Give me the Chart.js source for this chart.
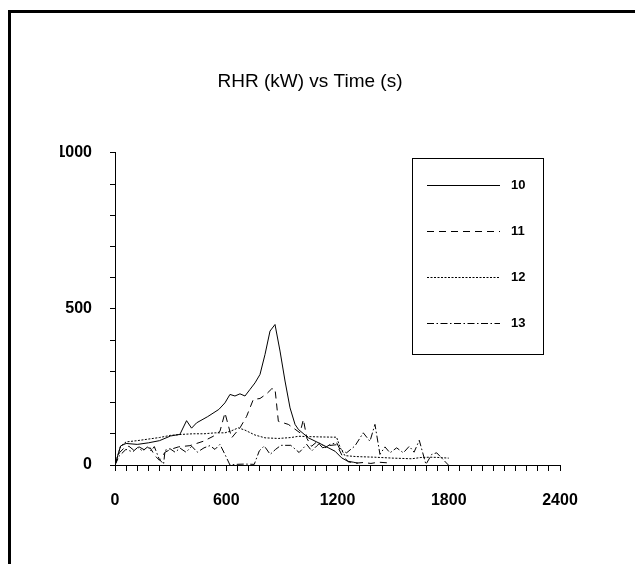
<!DOCTYPE html>
<html>
<head>
<meta charset="utf-8">
<script src="https://cdn.jsdelivr.net/npm/chart.js@4.4.0/dist/chart.umd.min.js"></script>
<style>
html,body{margin:0;padding:0;background:#fff;}
#wrap{width:635px;height:564px;position:relative;}
</style>
</head>
<body>
<div id="wrap"><canvas id="c" width="635" height="564"></canvas></div>
<script>
const titleText = 'RHR (kW) vs Time (s)';
const seriesLabels = ['10', '11', '12', '13'];
const xTickLabels = [0, 600, 1200, 1800, 2400];
const yTickLabels = [0, 500, 1000];

const t10 = [0, 30, 60, 120, 180, 240, 300, 350, 386, 413, 440, 500, 560, 593, 620, 647, 674, 701, 728, 755, 782, 809, 836, 863, 890, 917, 944, 971, 989, 1043, 1115, 1187, 1222, 1255, 1285, 1310];
const v10 = [0, 61, 69, 66, 71, 78, 93, 98, 142, 118, 135, 155, 178, 199, 226, 221, 228, 221, 242, 263, 290, 354, 429, 450, 365, 269, 183, 130, 114, 87, 66, 44, 23, 12, 9, 6];

const t11 = [0, 25, 50, 75, 100, 130, 160, 190, 215, 240, 270, 300, 342, 404, 476, 530, 566, 593, 629, 674, 710, 746, 782, 818, 845, 863, 881, 935, 998, 1016, 1035, 1060, 1090, 1120, 1150, 1196, 1225, 1260, 1300, 1340, 1380, 1420, 1470];
const v11 = [0, 40, 55, 60, 48, 58, 48, 55, 30, 15, 41, 50, 58, 62, 76, 92, 108, 167, 87, 119, 156, 210, 213, 228, 244, 244, 140, 130, 103, 146, 85, 60, 75, 55, 62, 65, 30, 10, 6, 8, 5, 9, 7];

const t12 = [0, 30, 60, 120, 180, 240, 300, 360, 420, 480, 540, 593, 630, 665, 700, 755, 809, 881, 950, 989, 1100, 1195, 1215, 1240, 1300, 1400, 1500, 1600, 1650, 1700, 1750, 1800];
const v12 = [0, 60, 74, 78, 83, 88, 95, 98, 100, 100, 103, 103, 110, 119, 112, 96, 87, 85, 88, 92, 90, 89, 55, 30, 27, 25, 22, 20, 24, 25, 24, 22];

const t13 = [0, 23, 59, 95, 122, 149, 176, 194, 212, 239, 262, 270, 297, 324, 351, 383, 414, 444, 480, 512, 539, 566, 593, 620, 650, 700, 751, 778, 805, 837, 866, 895, 948, 993, 1034, 1061, 1088, 1106, 1133, 1160, 1196, 1213, 1249, 1294, 1339, 1375, 1402, 1429, 1456, 1483, 1519, 1555, 1587, 1613, 1641, 1677, 1708, 1735, 1798];
const v13 = [0, 29, 50, 42, 56, 45, 58, 45, 59, 18, 3, 47, 52, 41, 54, 41, 60, 41, 55, 62, 50, 66, 34, 0, 2, 3, 2, 45, 61, 34, 50, 63, 63, 40, 66, 45, 61, 71, 55, 66, 71, 50, 39, 61, 103, 76, 130, 34, 58, 39, 55, 39, 60, 41, 79, 2, 34, 39, 0];

function pts(t, v) { return t.map((x, i) => ({x: x, y: v[i]})); }

const dashes = [[], [7, 5], [2, 1.5], [7, 2.5, 1.5, 2.5]];
const allData = [[t10, v10], [t11, v11], [t12, v12], [t13, v13]];

const datasets = allData.map((d, i) => ({
  label: seriesLabels[i],
  data: pts(d[0], d[1]),
  borderColor: '#000',
  borderWidth: 1,
  borderDash: dashes[i],
  pointRadius: 0,
  fill: false,
  tension: 0
}));

const framePlugin = {
  id: 'frame',
  beforeDraw(chart) {
    const ctx = chart.ctx;
    ctx.save();
    ctx.fillStyle = '#fff';
    ctx.fillRect(0, 0, chart.width, chart.height);
    ctx.fillStyle = '#000';
    ctx.fillRect(8, 10, chart.width - 8, 3);
    ctx.fillRect(8, 10, 3, chart.height - 10);
    ctx.restore();
  }
};

const legendPlugin = {
  id: 'boxLegend',
  afterDraw(chart) {
    const ctx = chart.ctx;
    ctx.save();
    ctx.strokeStyle = '#000';
    ctx.lineWidth = 1;
    ctx.strokeRect(412.5, 158.5, 131, 196);
    chart.data.datasets.forEach((ds, i) => {
      const y = 185.5 + 46 * i;
      ctx.beginPath();
      ctx.setLineDash(ds.borderDash || []);
      ctx.moveTo(427, y);
      ctx.lineTo(500, y);
      ctx.stroke();
      ctx.setLineDash([]);
      ctx.fillStyle = '#000';
      ctx.font = 'bold 13px "Liberation Sans", Arial, sans-serif';
      ctx.textBaseline = 'middle';
      ctx.textAlign = 'left';
      ctx.fillText(ds.label, 511, y);
    });
    ctx.restore();
  }
};

new Chart(document.getElementById('c'), {
  type: 'line',
  data: { datasets: datasets },
  plugins: [framePlugin, legendPlugin],
  options: {
    responsive: false,
    animation: false,
    layout: { padding: { left: 60, right: 75, top: 0, bottom: 0 } },
    plugins: {
      legend: { display: false },
      tooltip: { enabled: false },
      title: {
        display: true,
        text: titleText,
        color: '#000',
        font: { family: '"Liberation Sans", Arial, sans-serif', size: 19, weight: 'normal', lineHeight: 1.2 },
        padding: { top: 70, bottom: 60 }
      }
    },
    scales: {
      x: {
        type: 'linear',
        min: 0, max: 2400,
        afterFit(s) { s.height = 99; },
        border: { display: true, color: '#000', width: 1 },
        grid: { display: true, drawOnChartArea: false, drawTicks: true, tickLength: 6, color: '#000', lineWidth: 1 },
        ticks: {
          stepSize: 60, autoSkip: false, maxRotation: 0, padding: 20, color: '#000',
          font: { family: '"Liberation Sans", Arial, sans-serif', size: 16, weight: 'bold' },
          callback: v => xTickLabels.includes(v) ? String(v) : ''
        }
      },
      y: {
        type: 'linear',
        min: 0, max: 1000,
        afterFit(s) { s.width = 55; },
        border: { display: true, color: '#000', width: 1 },
        grid: { display: true, drawOnChartArea: false, drawTicks: true, tickLength: 5, color: '#000', lineWidth: 1 },
        ticks: {
          stepSize: 100, autoSkip: false, padding: 18, color: '#000',
          font: { family: '"Liberation Sans", Arial, sans-serif', size: 16, weight: 'bold' },
          callback: v => yTickLabels.includes(v) ? String(v) : ''
        }
      }
    }
  }
});
</script>
</body>
</html>
